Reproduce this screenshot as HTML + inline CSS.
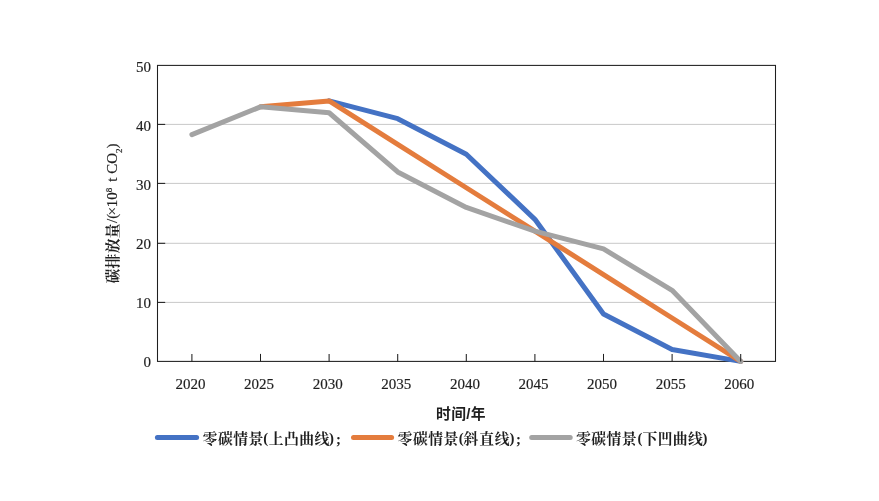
<!DOCTYPE html>
<html lang="zh"><head><meta charset="utf-8"><title>碳排放量</title>
<style>
html,body{margin:0;padding:0;background:#fff;}
body{width:879px;height:501px;overflow:hidden;}
svg{display:block;}
text{fill:#1f1f1f;}
.num{font-family:"Liberation Serif",serif;font-size:15px;stroke:#1f1f1f;stroke-width:0.18px;}
.leg{font-family:"Liberation Serif", "Noto Serif CJK SC", serif;font-size:14.8px;font-weight:700;text-anchor:middle;}
.ylab{font-family:"Liberation Serif", "Noto Serif CJK SC", serif;font-size:15px;stroke:#1f1f1f;stroke-width:0.18px;}
.ycjk{font-family:"Liberation Serif", "Noto Serif CJK SC", serif;font-size:14.8px;font-weight:700;text-anchor:middle;}
.xlab{font-family:"Liberation Sans", "Noto Sans CJK SC", sans-serif;font-size:14.8px;font-weight:700;letter-spacing:0.4px;}
</style></head><body>
<svg width="879" height="501" viewBox="0 0 879 501">
<rect x="0" y="0" width="879" height="501" fill="#ffffff"/>
<line x1="157.5" y1="302.40" x2="775.5" y2="302.40" stroke="#c9c9c9" stroke-width="1"/>
<line x1="157.5" y1="243.30" x2="775.5" y2="243.30" stroke="#c9c9c9" stroke-width="1"/>
<line x1="157.5" y1="183.40" x2="775.5" y2="183.40" stroke="#c9c9c9" stroke-width="1"/>
<line x1="157.5" y1="124.40" x2="775.5" y2="124.40" stroke="#c9c9c9" stroke-width="1"/>
<rect x="157.5" y="65.4" width="618.0" height="296.0" fill="none" stroke="#1f1f1f" stroke-width="1.05"/>
<polyline points="329.10,100.92 397.70,118.68 466.30,154.20 534.90,219.32 603.50,314.04 672.10,349.56 740.70,361.40" fill="none" stroke="#4472c4" stroke-width="5" stroke-linecap="round" stroke-linejoin="round"/>
<polyline points="260.50,106.84 329.10,100.92 397.70,144.33 466.30,187.75 534.90,231.16 603.50,274.57 672.10,317.99 740.70,361.40" fill="none" stroke="#e47c3d" stroke-width="5" stroke-linecap="round" stroke-linejoin="round"/>
<polyline points="191.90,134.66 260.50,106.84 329.10,112.76 397.70,171.96 466.30,207.48 534.90,231.16 603.50,248.92 672.10,290.36 740.70,361.40" fill="none" stroke="#a3a3a3" stroke-width="5" stroke-linecap="round" stroke-linejoin="round"/>
<line x1="157.5" y1="302.40" x2="165.2" y2="302.40" stroke="#1f1f1f" stroke-width="1.05"/>
<line x1="157.5" y1="243.30" x2="165.2" y2="243.30" stroke="#1f1f1f" stroke-width="1.05"/>
<line x1="157.5" y1="183.40" x2="165.2" y2="183.40" stroke="#1f1f1f" stroke-width="1.05"/>
<line x1="157.5" y1="124.40" x2="165.2" y2="124.40" stroke="#1f1f1f" stroke-width="1.05"/>
<line x1="191.90" y1="361.40" x2="191.90" y2="353.90" stroke="#1f1f1f" stroke-width="1.05"/>
<line x1="260.50" y1="361.40" x2="260.50" y2="353.90" stroke="#1f1f1f" stroke-width="1.05"/>
<line x1="329.10" y1="361.40" x2="329.10" y2="353.90" stroke="#1f1f1f" stroke-width="1.05"/>
<line x1="397.70" y1="361.40" x2="397.70" y2="353.90" stroke="#1f1f1f" stroke-width="1.05"/>
<line x1="466.30" y1="361.40" x2="466.30" y2="353.90" stroke="#1f1f1f" stroke-width="1.05"/>
<line x1="534.90" y1="361.40" x2="534.90" y2="353.90" stroke="#1f1f1f" stroke-width="1.05"/>
<line x1="603.50" y1="361.40" x2="603.50" y2="353.90" stroke="#1f1f1f" stroke-width="1.05"/>
<line x1="672.10" y1="361.40" x2="672.10" y2="353.90" stroke="#1f1f1f" stroke-width="1.05"/>
<line x1="740.70" y1="361.40" x2="740.70" y2="353.90" stroke="#1f1f1f" stroke-width="1.05"/>
<text class="num" x="151" y="367" text-anchor="end">0</text>
<text class="num" x="151" y="308" text-anchor="end">10</text>
<text class="num" x="151" y="249" text-anchor="end">20</text>
<text class="num" x="151" y="190" text-anchor="end">30</text>
<text class="num" x="151" y="131" text-anchor="end">40</text>
<text class="num" x="151" y="72" text-anchor="end">50</text>
<text class="num" x="190.50" y="389" text-anchor="middle">2020</text>
<text class="num" x="259.10" y="389" text-anchor="middle">2025</text>
<text class="num" x="327.70" y="389" text-anchor="middle">2030</text>
<text class="num" x="396.30" y="389" text-anchor="middle">2035</text>
<text class="num" x="464.90" y="389" text-anchor="middle">2040</text>
<text class="num" x="533.50" y="389" text-anchor="middle">2045</text>
<text class="num" x="602.10" y="389" text-anchor="middle">2050</text>
<text class="num" x="670.70" y="389" text-anchor="middle">2055</text>
<text class="num" x="739.30" y="389" text-anchor="middle">2060</text>
<text class="xlab" x="461" y="419" text-anchor="middle">时间/年</text>
<g transform="rotate(-90)">
<text class="ycjk" x="-276.2 -261.0 -245.9 -230.8" y="118.3">碳排放量</text>
<text class="ylab" y="117.3"><tspan x="-223">/(</tspan><tspan x="-215.6">×10</tspan><tspan font-size="9px" dy="-5.6">8</tspan><tspan x="-185.4" dy="5.6"> t CO</tspan><tspan font-size="9px" dy="4.7">2</tspan><tspan dy="-4.7">)</tspan></text>
</g>
<line x1="157.4" y1="437.4" x2="196.6" y2="437.4" stroke="#4472c4" stroke-width="5" stroke-linecap="round"/>
<text class="leg" x="209.9 225.3 240.7 256.0 265.6 276.1 291.4 306.7 322.0 331.5 338.5" dy="0.0 0.0 0.0 0.0 -1.4 1.4 0.0 0.0 0.0 -1.4 1.4" y="443.9">零碳情景(上凸曲线);</text>
<line x1="353.5" y1="437.4" x2="391.6" y2="437.4" stroke="#e47c3d" stroke-width="5" stroke-linecap="round"/>
<text class="leg" x="405.0 420.3 435.7 451.0 461.1 470.9 486.6 502.2 511.9 518.5" dy="0.0 0.0 0.0 0.0 -1.4 1.4 0.0 0.0 -1.4 1.4" y="443.9">零碳情景(斜直线);</text>
<line x1="531.7" y1="437.4" x2="570.2" y2="437.4" stroke="#a3a3a3" stroke-width="5" stroke-linecap="round"/>
<text class="leg" x="583.4 598.7 614.0 629.2 640.0 650.0 665.2 680.2 695.5 705.0" dy="0.0 0.0 0.0 0.0 -1.4 1.4 0.0 0.0 0.0 -1.4" y="443.9">零碳情景(下凹曲线)</text>
</svg>
</body></html>
